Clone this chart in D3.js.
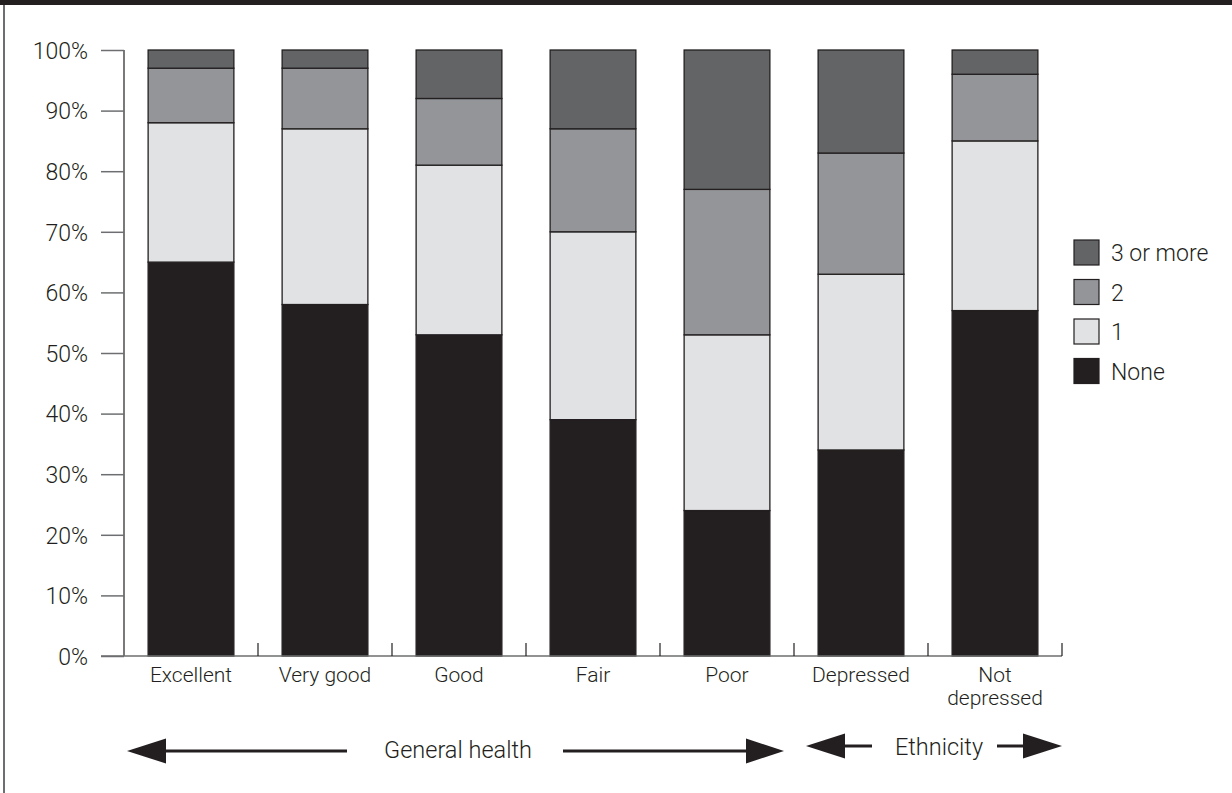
<!DOCTYPE html>
<html>
<head>
<meta charset="utf-8">
<script src="https://cdn.jsdelivr.net/npm/d3@7"></script>
<style>
  body { margin: 0; background: #fff; }
  text { font-family: Roboto, "Liberation Sans", sans-serif; font-weight: 300; fill: #231f20; }
</style>
</head>
<body>
<div id="chart"></div>
<script>
// Data (percent of respondents)
const categories = ["Excellent", "Very good", "Good", "Fair", "Poor", "Depressed", "Not depressed"];
const series = ["None", "1", "2", "3 or more"];
const none      = [65, 58, 53, 39, 24, 34, 57];
const one       = [23, 29, 28, 31, 29, 29, 28];
const two       = [ 9, 10, 11, 17, 24, 20, 11];
const threePlus = [ 3,  3,  8, 13, 23, 17,  4];
const yTicks = [0, 10, 20, 30, 40, 50, 60, 70, 80, 90, 100];

const colors = {"None": "#231f20", "1": "#e1e2e3", "2": "#939598", "3 or more": "#636466"};

const W = 1232, H = 793;
const svg = d3.select("#chart").append("svg")
    .attr("width", W).attr("height", H);

// header strip and left frame line
svg.append("rect").attr("x", 0).attr("y", 0).attr("width", W).attr("height", 5).attr("fill", "#231f20");
svg.append("line").attr("x1", 4).attr("x2", 4).attr("y1", 5).attr("y2", H)
    .attr("stroke", "#6d6e71").attr("stroke-width", 2);

// build stacked table
const table = categories.map((c, i) => ({
  cat: c, "None": none[i], "1": one[i], "2": two[i], "3 or more": threePlus[i]
}));
const stacked = d3.stack().keys(series)(table);

const x = d3.scaleBand().domain(categories).range([124, 1062]).paddingInner(0.36).paddingOuter(0.18);
const y = d3.scaleLinear().domain([0, 100]).range([656, 50]);
const step = x.step();

// bars
svg.append("g").selectAll("g")
  .data(stacked)
  .join("g")
    .attr("fill", d => colors[d.key])
  .selectAll("rect")
  .data(d => d)
  .join("rect")
    .attr("x", d => x(d.data.cat))
    .attr("width", x.bandwidth())
    .attr("y", d => y(d[1]))
    .attr("height", d => y(d[0]) - y(d[1]))
    .attr("stroke", "#231f20")
    .attr("stroke-width", 1.3);

// y axis
const yAxis = svg.append("g")
    .attr("transform", "translate(124,0)")
    .call(d3.axisLeft(y).tickValues(yTicks).tickFormat(d => d + "%").tickSize(23).tickPadding(13));
yAxis.select(".domain").attr("stroke", "#231f20").attr("stroke-width", 1.2).attr("d", `M0,${y(100)}V${y(0)}`);
yAxis.selectAll(".tick line").attr("stroke", "#6d6e71").attr("stroke-width", 1.5);
yAxis.selectAll(".tick text").style("font-size", "23px").style("font-family", "Roboto, 'Liberation Sans', sans-serif")
    .style("font-weight", 300).attr("fill", "#231f20").attr("dy", "0.36em");

// x axis baseline and separator ticks
svg.append("line").attr("x1", 101).attr("x2", 1062).attr("y1", y(0)).attr("y2", y(0))
    .attr("stroke", "#6d6e71").attr("stroke-width", 1.5);
const seps = categories.map((c, i) => x.range()[0] + step * (i + 1));
svg.append("g").selectAll("line").data(seps).join("line")
    .attr("x1", d => d).attr("x2", d => d)
    .attr("y1", y(0)).attr("y2", y(0) - 13)
    .attr("stroke", "#231f20").attr("stroke-width", 1.2);

// category labels
const labels = svg.append("g").selectAll("text").data(categories).join("text")
    .attr("text-anchor", "middle")
    .attr("x", d => x(d) + x.bandwidth() / 2)
    .attr("y", 682)
    .style("font-size", "21px");
labels.each(function(d) {
  const parts = d === "Not depressed" ? ["Not", "depressed"] : [d];
  const t = d3.select(this);
  parts.forEach((p, i) => {
    t.append("tspan").attr("x", x(d) + x.bandwidth() / 2).attr("dy", i ? 23 : 0).text(p);
  });
});

// legend
const legendKeys = ["3 or more", "2", "1", "None"];
const lg = svg.append("g").attr("transform", "translate(1074,240)");
const li = lg.selectAll("g").data(legendKeys).join("g")
    .attr("transform", (d, i) => `translate(0,${i * 39.5})`);
li.append("rect").attr("width", 25).attr("height", 25)
    .attr("fill", d => colors[d]).attr("stroke", "#231f20").attr("stroke-width", 1.2);
li.append("text").attr("x", 37).attr("y", 21).style("font-size", "23px").text(d => d);

// group arrows
function arrow(x1, x2, yy, headLen, headH) {
  // x1 = tail end, x2 = tip
  const dir = x2 > x1 ? 1 : -1;
  const base = x2 - dir * headLen;
  svg.append("line").attr("x1", x1).attr("x2", base).attr("y1", yy).attr("y2", yy)
      .attr("stroke", "#231f20").attr("stroke-width", 3);
  svg.append("path")
      .attr("d", `M${x2},${yy}L${base},${yy - headH / 2}L${base},${yy + headH / 2}Z`)
      .attr("fill", "#231f20");
}
arrow(347, 127, 751, 39, 25);
arrow(563, 784, 751, 38, 25);
arrow(872, 806, 746, 39, 25);
arrow(997, 1062, 746, 39, 25);

svg.append("text").attr("x", 458).attr("y", 758).attr("text-anchor", "middle")
    .style("font-size", "23.5px").text("General health");
svg.append("text").attr("x", 939).attr("y", 755).attr("text-anchor", "middle")
    .style("font-size", "23.5px").text("Ethnicity");
</script>
</body>
</html>
